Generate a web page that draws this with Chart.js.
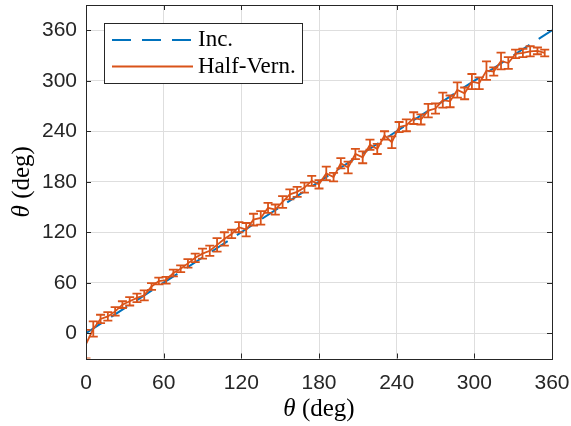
<!DOCTYPE html>
<html>
<head>
<meta charset="utf-8">
<script src="https://cdn.jsdelivr.net/npm/chart.js@4.4.1/dist/chart.umd.min.js"></script>
<style>
  html, body { margin: 0; padding: 0; background: #fff; }
</style>
</head>
<body>
<canvas id="chart" width="571" height="426"></canvas>
<script>
// data
const incAngles = [0, 360];
const incValues = [0, 360];

const halfAngles = [0, 5.625, 11.25, 16.875, 22.5, 28.125, 33.75, 39.375, 45, 50.625,
  56.25, 61.875, 67.5, 73.125, 78.75, 84.375, 90, 95.625, 101.25, 106.875,
  112.5, 118.125, 123.75, 129.375, 135, 140.625, 146.25, 151.875, 157.5, 163.125,
  168.75, 174.375, 180, 185.625, 191.25, 196.875, 202.5, 208.125, 213.75, 219.375,
  225, 230.625, 236.25, 241.875, 247.5, 253.125, 258.75, 264.375, 270, 275.625,
  281.25, 286.875, 292.5, 298.125, 303.75, 309.375, 315, 320.625, 326.25, 331.875,
  337.5, 343.125, 348.75, 354.375];
const halfValues = [-13, 5, 17, 20, 26, 34, 38, 42, 45, 55.6,
  62, 63, 71.5, 76.7, 83, 89.6, 94.6, 98, 105, 112,
  118, 126, 123, 135, 137, 149, 147, 156, 165, 168,
  173, 181, 177, 190, 185.5, 202, 197, 213, 209, 224,
  219, 235, 227, 245, 247, 255.6, 254, 264.5, 267, 277,
  275.5, 289, 285, 299, 297, 312, 311, 323.5, 321, 332,
  333, 335, 335.5, 333];
const halfErrors = [17, 9, 5, 5, 5, 4, 5, 5, 6, 4,
  4, 4, 4, 4, 5, 5, 6, 6, 8, 8,
  5, 6, 8, 7, 8, 6, 6, 7, 6, 6,
  6, 6, 5, 8, 5, 6, 7, 6, 7, 6,
  6, 5, 7, 6, 7, 7, 6, 8, 6, 9,
  7, 9, 7, 9, 7, 11, 5, 10, 7, 5,
  5, 6, 4, 4];

const xTicks = [0, 60, 120, 180, 240, 300, 360];
const yTicks = [0, 60, 120, 180, 240, 300, 360];
const legendLabels = ["Inc.", "Half-Vern."];

const blue = "#0072BD";
const orange = "#D95319";
const axisColor = "#262626";
const dash = [19, 11];

// error bars, drawn through the scales
const errorBars = {
  id: "errorBars",
  afterDatasetsDraw(chart) {
    const ctx = chart.ctx;
    const xs = chart.scales.x;
    const ys = chart.scales.y;
    const a = chart.chartArea;
    ctx.save();
    ctx.beginPath();
    ctx.rect(a.left, a.top, a.right - a.left, a.bottom - a.top);
    ctx.clip();
    ctx.strokeStyle = orange;
    ctx.lineWidth = 1.8;
    halfAngles.forEach((ang, i) => {
      const x = xs.getPixelForValue(ang);
      const y1 = ys.getPixelForValue(halfValues[i] + halfErrors[i]);
      const y2 = ys.getPixelForValue(halfValues[i] - halfErrors[i]);
      ctx.beginPath();
      ctx.moveTo(x, y1);
      ctx.lineTo(x, y2);
      ctx.moveTo(x - 4.5, y1);
      ctx.lineTo(x + 4.5, y1);
      ctx.moveTo(x - 4.5, y2);
      ctx.lineTo(x + 4.5, y2);
      ctx.stroke();
    });
    ctx.restore();
  },
};

// box, inward ticks, legend, axis titles
const decor = {
  id: "decor",
  afterDraw(chart) {
    const ctx = chart.ctx;
    const xs = chart.scales.x;
    const ys = chart.scales.y;
    const a = chart.chartArea;
    ctx.save();
    ctx.strokeStyle = axisColor;
    ctx.lineWidth = 1;
    ctx.strokeRect(Math.round(a.left) + 0.5, Math.round(a.top) + 0.5,
      Math.round(a.right - a.left), Math.round(a.bottom - a.top));
    ctx.beginPath();
    xTicks.forEach((v) => {
      const x = Math.round(xs.getPixelForValue(v)) + 0.5;
      ctx.moveTo(x, a.bottom);
      ctx.lineTo(x, a.bottom - 5);
      ctx.moveTo(x, a.top);
      ctx.lineTo(x, a.top + 5);
    });
    yTicks.forEach((v) => {
      const y = Math.round(ys.getPixelForValue(v)) + 0.5;
      ctx.moveTo(a.left, y);
      ctx.lineTo(a.left + 5, y);
      ctx.moveTo(a.right, y);
      ctx.lineTo(a.right - 5, y);
    });
    ctx.stroke();

    // legend
    ctx.fillStyle = "#fff";
    ctx.fillRect(104.5, 23.5, 198, 60);
    ctx.strokeRect(104.5, 23.5, 198, 60);
    ctx.lineWidth = 2;
    ctx.strokeStyle = blue;
    ctx.setLineDash(dash);
    ctx.beginPath();
    ctx.moveTo(112, 40);
    ctx.lineTo(193, 40);
    ctx.stroke();
    ctx.setLineDash([]);
    ctx.strokeStyle = orange;
    ctx.beginPath();
    ctx.moveTo(112, 66.5);
    ctx.lineTo(193, 66.5);
    ctx.stroke();
    ctx.fillStyle = "#000";
    ctx.font = '23px "Liberation Serif"';
    ctx.textBaseline = "middle";
    ctx.textAlign = "left";
    ctx.fillText(legendLabels[0], 198, 40);
    ctx.fillText(legendLabels[1], 198, 67);

    // axis titles: italic theta + upright (deg)
    function title(cx, cy, rot) {
      ctx.save();
      ctx.translate(cx, cy);
      ctx.rotate(rot);
      ctx.font = 'italic 25px "Liberation Serif"';
      const w1 = ctx.measureText("\u03b8").width;
      ctx.font = '25px "Liberation Serif"';
      const w2 = ctx.measureText(" (deg)").width;
      const x0 = -(w1 + w2) / 2;
      ctx.textBaseline = "middle";
      ctx.font = 'italic 25px "Liberation Serif"';
      ctx.fillText("\u03b8", x0, 0);
      ctx.font = '25px "Liberation Serif"';
      ctx.fillText(" (deg)", x0 + w1, 0);
      ctx.restore();
    }
    ctx.fillStyle = "#000";
    title((a.left + a.right) / 2, 409, 0);
    title(22, (a.top + a.bottom) / 2, -Math.PI / 2);
    ctx.restore();
  },
};

const tickFont = { family: '"Liberation Sans", Arial, sans-serif', size: 21 };

new Chart(document.getElementById("chart").getContext("2d"), {
  type: "scatter",
  data: {
    datasets: [
      {
        label: legendLabels[1],
        data: halfAngles.map((a, i) => ({ x: a, y: halfValues[i] })),
        showLine: true,
        borderColor: orange,
        borderWidth: 1.8,
        pointRadius: 0,
        order: 0,
      },
      {
        label: legendLabels[0],
        data: incAngles.map((a, i) => ({ x: a, y: incValues[i] })),
        showLine: true,
        borderColor: blue,
        borderWidth: 2,
        borderDash: dash,
        pointRadius: 0,
        order: 1,
      },
    ],
  },
  options: {
    responsive: false,
    animation: false,
    devicePixelRatio: 1,
    layout: { padding: { left: 0, right: 19, top: 5, bottom: 0 } },
    plugins: { legend: { display: false }, tooltip: { enabled: false } },
    scales: {
      x: {
        type: "linear",
        min: 0,
        max: 360,
        afterBuildTicks: (s) => { s.ticks = xTicks.map((v) => ({ value: v })); },
        afterFit: (s) => { s.height = 67.5; s.paddingLeft = 0; s.paddingRight = 0; },
        grid: { color: "#dedede", drawTicks: false },
        border: { display: false },
        ticks: { padding: 12, font: tickFont, color: axisColor, maxRotation: 0 },
      },
      y: {
        type: "linear",
        min: -30,
        max: 390,
        afterBuildTicks: (s) => { s.ticks = yTicks.map((v) => ({ value: v })); },
        afterFit: (s) => { s.width = 86; s.paddingTop = 0; s.paddingBottom = 0; },
        grid: { color: "#dedede", drawTicks: false },
        border: { display: false },
        ticks: { padding: 9, font: tickFont, color: axisColor },
      },
    },
  },
  plugins: [errorBars, decor],
});
</script>
</body>
</html>
